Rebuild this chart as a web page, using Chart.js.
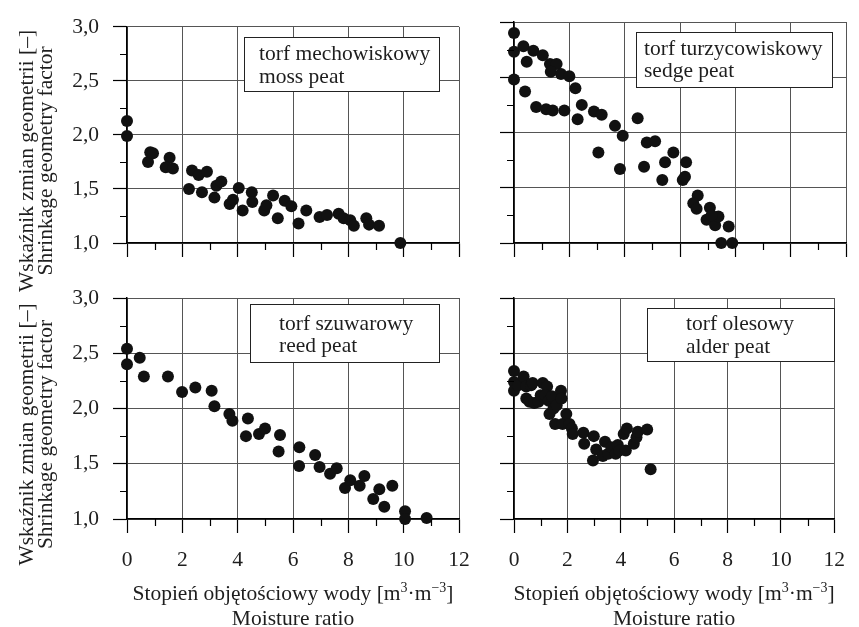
<!DOCTYPE html>
<html>
<head>
<meta charset="utf-8">
<script src="https://cdn.jsdelivr.net/npm/chart.js@4.4.1/dist/chart.umd.min.js"></script>
<style>
  html, body { margin: 0; padding: 0; background: #fff; }
  #wrap { position: relative; width: 859px; height: 627px; }
  #wrap canvas { position: absolute; left: 0; top: 0; }
  #probe { position: absolute; left: -999px; top: 0; font-family: "Liberation Serif"; font-size: 21px; }
</style>
</head>
<body>
<div id="probe">Stopień łąka</div>
<div id="wrap">
  <canvas id="moss" width="859" height="627"></canvas>
  <canvas id="sedge" width="859" height="627"></canvas>
  <canvas id="reed" width="859" height="627"></canvas>
  <canvas id="alder" width="859" height="627"></canvas>
</div>
<script>
// axis ticks
const xMajor = [0, 2, 4, 6, 8, 10, 12];
const yMajor = [1.0, 1.5, 2.0, 2.5, 3.0];
const yTitle = ['Wskaźnik zmian geometrii [–]', 'Shrinkage geometry factor'];
const xTitle2 = 'Moisture ratio';

// torf mechowiskowy / moss peat
const mossX = [0, 0, 0.76, 0.84, 0.94, 1.54, 1.40, 1.66, 2.35, 2.59, 2.89, 2.24, 2.71, 3.16, 3.23, 3.41, 3.71, 3.83, 4.04, 4.18,
  4.51, 4.53, 4.96, 5.04, 5.28, 5.45, 5.70, 5.94, 6.20, 6.48, 6.96, 7.23, 7.65, 7.83, 8.07, 8.20, 8.65, 8.75, 9.11, 9.88];
const mossY = [2.13, 1.99, 1.75, 1.84, 1.83, 1.79, 1.70, 1.69, 1.67, 1.63, 1.66, 1.50, 1.47, 1.42, 1.53, 1.57, 1.36, 1.40, 1.51, 1.30,
  1.47, 1.38, 1.30, 1.35, 1.44, 1.23, 1.39, 1.34, 1.18, 1.30, 1.24, 1.26, 1.27, 1.23, 1.21, 1.16, 1.23, 1.17, 1.16, 1.00];

// torf turzycowiskowy / sedge peat
const sedgeX = [0, 0, 0, 0.34, 0.46, 0.70, 1.04, 1.30, 1.54, 1.33, 1.70, 2.00, 0.40, 0.80, 1.16, 1.40, 1.82, 2.22, 2.45, 2.30,
  2.89, 3.17, 3.05, 3.65, 3.93, 3.83, 4.47, 4.80, 5.10, 4.70, 5.46, 5.76, 5.36, 6.10, 6.18, 6.22, 6.64, 6.48, 6.60, 7.08,
  6.96, 7.27, 7.39, 7.76, 7.49, 7.89, 7.14];
const sedgeY = [2.90, 2.73, 2.48, 2.78, 2.64, 2.74, 2.70, 2.62, 2.62, 2.55, 2.53, 2.51, 2.37, 2.23, 2.21, 2.20, 2.20, 2.40, 2.25, 2.12,
  2.19, 2.16, 1.82, 2.06, 1.97, 1.67, 2.13, 1.91, 1.92, 1.69, 1.73, 1.82, 1.57, 1.57, 1.60, 1.73, 1.43, 1.36, 1.31, 1.32,
  1.21, 1.16, 1.24, 1.15, 1.00, 1.00, 1.25];

// torf szuwarowy / reed peat
const reedX = [0, 0, 0.46, 0.61, 1.48, 1.99, 2.47, 3.06, 3.16, 3.70, 3.81, 4.37, 4.30, 4.77, 4.99, 5.53, 5.48, 6.23, 6.22, 6.80,
  6.96, 7.34, 7.58, 7.88, 8.07, 8.41, 8.58, 8.90, 9.12, 9.30, 9.59, 10.05, 10.05, 10.83];
const reedY = [2.54, 2.40, 2.46, 2.29, 2.29, 2.15, 2.19, 2.16, 2.02, 1.95, 1.89, 1.91, 1.75, 1.77, 1.82, 1.76, 1.61, 1.65, 1.48, 1.58,
  1.47, 1.41, 1.46, 1.28, 1.35, 1.30, 1.39, 1.18, 1.27, 1.11, 1.30, 1.07, 1.00, 1.01];

// torf olesowy / alder peat
const alderX = [0, 0, 0, 0.16, 0.36, 0.46, 0.64, 0.46, 0.58, 0.70, 0.76, 0.92, 1.00, 1.08, 1.24, 1.18, 1.30, 1.42, 1.33, 1.48,
  1.60, 1.76, 1.78, 1.54, 1.82, 1.96, 2.08, 2.17, 2.20, 2.60, 2.63, 2.99, 2.96, 3.08, 3.33, 3.41, 3.53, 3.65, 3.81, 3.89,
  3.95, 4.19, 4.11, 4.23, 4.49, 4.59, 4.64, 4.99, 5.12];
const alderY = [2.34, 2.24, 2.16, 2.21, 2.29, 2.20, 2.21, 2.09, 2.06, 2.23, 2.05, 2.06, 2.12, 2.23, 2.20, 2.12, 2.07, 2.11, 1.95, 2.00,
  2.03, 2.16, 2.09, 1.86, 1.86, 1.95, 1.86, 1.82, 1.77, 1.78, 1.68, 1.75, 1.53, 1.63, 1.57, 1.70, 1.59, 1.65, 1.59, 1.67,
  1.62, 1.62, 1.77, 1.82, 1.68, 1.74, 1.79, 1.81, 1.45];

const FONT = "'Liberation Serif', serif";
const TXT = '#1e1e1e';
const GRID = '#555';
const W = 859, H = 627;

const isMajorX = v => xMajor.some(m => Math.abs(m - v) < 1e-6);
const isMajorY = v => yMajor.some(m => Math.abs(m - v) < 1e-6);

const decor = {
  id: 'decor',
  beforeDatasetsDraw(chart, args, o) {
    const a = chart.chartArea, ctx = chart.ctx, b = o.box;
    ctx.save();
    const bx = Math.round(a.left + b.left) + 0.5, by = Math.round(a.top + b.top) + 0.5;
    ctx.fillStyle = '#fff';
    ctx.fillRect(bx, by, b.w, b.h);
    ctx.strokeStyle = '#222';
    ctx.lineWidth = 1;
    ctx.strokeRect(bx, by, b.w, b.h);
    ctx.fillStyle = TXT;
    ctx.font = '21.5px ' + FONT;
    ctx.textAlign = 'left';
    ctx.textBaseline = 'alphabetic';
    o.names.forEach((t, i) => ctx.fillText(t, a.left + b.left + b.pad, a.top + b.base[i]));
    ctx.restore();
  },
  afterDraw(chart, args, o) {
    const a = chart.chartArea, ctx = chart.ctx;
    const xs = chart.scales.x, ys = chart.scales.y;
    ctx.save();
    // minor ticks, shorter than the major ones
    ctx.strokeStyle = '#000';
    ctx.lineWidth = 1.2;
    ctx.beginPath();
    xs.ticks.forEach(t => {
      if (isMajorX(t.value)) return;
      const px = Math.round(xs.getPixelForValue(t.value)) + 0.5;
      ctx.moveTo(px, a.bottom);
      ctx.lineTo(px, a.bottom + 7);
    });
    ys.ticks.forEach(t => {
      if (isMajorY(t.value)) return;
      const py = Math.round(ys.getPixelForValue(t.value)) + 0.5;
      ctx.moveTo(a.left - 7, py);
      ctx.lineTo(a.left, py);
    });
    ctx.stroke();

    ctx.fillStyle = TXT;
    if (o.yTitle) {
      const cy = (a.top + a.bottom) / 2 + 26;
      ctx.font = '21.5px ' + FONT;
      ctx.textAlign = 'center';
      ctx.textBaseline = 'alphabetic';
      [33, 52].forEach((bx, i) => {
        ctx.save();
        ctx.translate(bx, cy);
        ctx.rotate(-Math.PI / 2);
        ctx.fillText(yTitle[i], 0, 0);
        ctx.restore();
      });
    }
    if (o.xTitle) {
      const cx = (a.left + a.right) / 2;
      const base = a.bottom + 81;
      const big = '21.5px ' + FONT, small = '14px ' + FONT;
      const parts = [['Stopień objętościowy wody [m', false], ['3', true], ['·m', false], ['\u22123', true], [']', false]];
      let total = 0;
      parts.forEach(p => { ctx.font = p[1] ? small : big; total += ctx.measureText(p[0]).width; });
      let x = cx - total / 2;
      ctx.textAlign = 'left';
      ctx.textBaseline = 'alphabetic';
      parts.forEach(p => {
        ctx.font = p[1] ? small : big;
        ctx.fillText(p[0], x, p[1] ? base - 8 : base);
        x += ctx.measureText(p[0]).width;
      });
      ctx.font = big;
      ctx.textAlign = 'center';
      ctx.fillText(xTitle2, cx, a.bottom + 106);
    }
    ctx.restore();
  }
};

function makeChart(id, xs, ys, opt) {
  const pts = xs.map((x, i) => ({ x: x, y: ys[i] }));
  return new Chart(document.getElementById(id), {
    type: 'scatter',
    data: {
      datasets: [{
        data: pts,
        backgroundColor: '#111',
        borderColor: '#111',
        borderWidth: 0,
        pointRadius: 6,
        clip: false
      }]
    },
    options: {
      responsive: false,
      animation: false,
      events: [],
      layout: { padding: { left: 0, top: opt.area.top, right: W - opt.area.right, bottom: 0 } },
      plugins: {
        legend: { display: false },
        tooltip: { enabled: false },
        decor: { box: opt.box, names: opt.names, yTitle: opt.yLabels, xTitle: opt.xLabels }
      },
      scales: {
        x: {
          type: 'linear', min: 0, max: 12,
          afterFit: s => { s.height = H - opt.area.bottom; },
          border: { display: true, color: '#000', width: 1.5 },
          grid: {
            color: c => isMajorX(c.tick.value) ? GRID : 'rgba(0,0,0,0)',
            lineWidth: 1,
            drawTicks: true,
            tickLength: 14,
            tickColor: c => isMajorX(c.tick.value) ? '#000' : 'rgba(0,0,0,0)',
            tickWidth: 1.2
          },
          ticks: {
            display: opt.xLabels,
            stepSize: 1,
            autoSkip: false,
            maxRotation: 0,
            padding: 14,
            color: TXT,
            font: { family: FONT, size: 21.5 },
            callback: v => isMajorX(v) ? String(v) : ''
          }
        },
        y: {
          type: 'linear', min: 1, max: 3,
          afterFit: s => { s.width = opt.area.left; },
          border: { display: true, color: '#000', width: 1.5 },
          grid: {
            color: c => isMajorY(c.tick.value) ? GRID : 'rgba(0,0,0,0)',
            lineWidth: 1,
            drawTicks: true,
            tickLength: 14,
            tickColor: c => isMajorY(c.tick.value) ? '#000' : 'rgba(0,0,0,0)',
            tickWidth: 1.2
          },
          ticks: {
            display: opt.yLabels,
            stepSize: 0.25,
            autoSkip: false,
            padding: 14,
            color: TXT,
            font: { family: FONT, size: 21.5 },
            callback: v => isMajorY(v) ? v.toFixed(1).replace('.', ',') : ''
          }
        }
      }
    },
    plugins: [decor]
  });
}

function drawAll() {
  makeChart('moss', mossX, mossY, {
    area: { left: 127, top: 22, right: 459, bottom: 243 },
    yLabels: true, xLabels: false,
    names: ['torf mechowiskowy', 'moss peat'],
    box: { left: 117, top: 10, w: 195, h: 54, pad: 15, base: [33, 56] }
  });
  makeChart('sedge', sedgeX, sedgeY, {
    area: { left: 514, top: 22, right: 846, bottom: 243 },
    yLabels: false, xLabels: false,
    names: ['torf turzycowiskowy', 'sedge peat'],
    box: { left: 122, top: 10, w: 196, h: 55, pad: 8, base: [33, 55] }
  });
  makeChart('reed', reedX, reedY, {
    area: { left: 127, top: 298, right: 459, bottom: 519 },
    yLabels: true, xLabels: true,
    names: ['torf szuwarowy', 'reed peat'],
    box: { left: 123, top: 6, w: 189, h: 58, pad: 29, base: [32, 54] }
  });
  makeChart('alder', alderX, alderY, {
    area: { left: 514, top: 298, right: 846, bottom: 519 },
    yLabels: false, xLabels: true,
    names: ['torf olesowy', 'alder peat'],
    box: { left: 133, top: 10, w: 187, h: 53, pad: 39, base: [32, 55] }
  });
}

document.fonts.load("21px 'Liberation Serif'").then(drawAll, drawAll);
</script>
</body>
</html>
